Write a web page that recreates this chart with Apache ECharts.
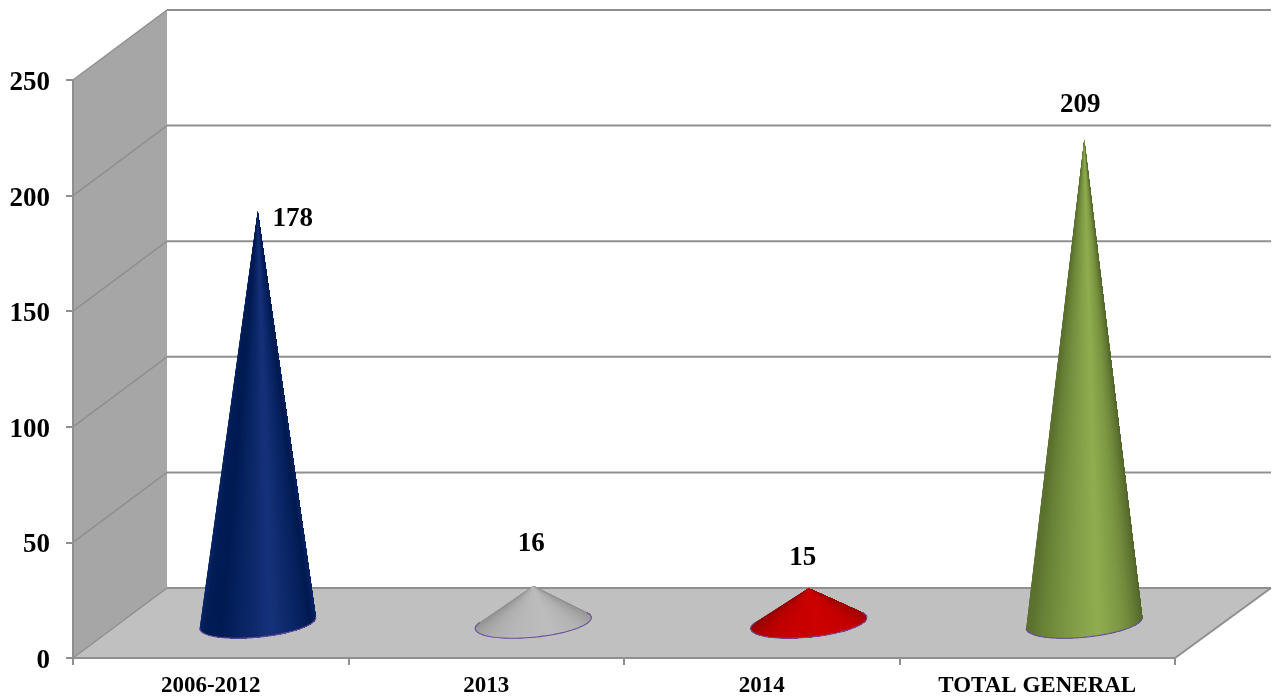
<!DOCTYPE html>
<html><head><meta charset="utf-8">
<script src="https://cdn.jsdelivr.net/npm/echarts@6/dist/echarts.min.js"></script>
<style>html,body{margin:0;padding:0;background:#fff}#c{width:1279px;height:698px}</style>
</head><body><div id="c"></div>
<script>
const categories = ['2006-2012', '2013', '2014', 'TOTAL GENERAL'];
const values = [178, 16, 15, 209];
const yTicks = [0, 50, 100, 150, 200, 250];
const ramps = [
  ['#0c2a6c', '#021d56', '#001b52', '#0a2564', '#16327a', '#0a2564', '#001a50', '#0c2a6c'],
  ['#8a8a8a', '#9c9c9c', '#aeaeae', '#b8b8b8', '#bdbdbd', '#b4b4b4', '#a0a0a0', '#8c8c8c'],
  ['#850000', '#a00000', '#bb0000', '#c80000', '#cc0000', '#c40000', '#aa0000', '#8e0000'],
  ['#5a7030', '#5c722f', '#6d873a', '#7f9b45', '#90ae50', '#7c9642', '#5f7632', '#4e6028']
];
const labelOffsets = [[35, 8], [-2, -42], [-6, -30], [-4, -35]];

const DEPTH_X = 94, DEPTH_Y = -70, BACK_EXTRA = 2;
const FONT = '"Liberation Serif","Times New Roman",serif';
const GRID = '#8f8f8f';

function hex(c){return [1,3,5].map(i=>parseInt(c.substr(i,2),16));}
function rampColor(r,t){
  const p=t*(r.length-1), i=Math.min(Math.floor(p),r.length-2), f=p-i;
  const a=hex(r[i]), b=hex(r[i+1]);
  return 'rgb('+a.map((v,k)=>Math.round(v+(b[k]-v)*f)).join(',')+')';
}

function renderWalls(params, api){
  const cs = params.coordSys;
  const v = api.value(0);
  const y = api.coord([0, v])[1];
  const x0 = cs.x, xr = cs.x + cs.width;
  const bx = x0 + DEPTH_X, br = xr + DEPTH_X + BACK_EXTRA, by = y + DEPTH_Y;
  const children = [];
  const lineStyle = {stroke: GRID, lineWidth: 2, fill: null};
  const sub = {stroke: GRID, lineWidth: 1.5, fill: null};
  if (params.dataIndex === 0) {
    const top = cs.y;
    children.push({type:'polygon', shape:{points:[[x0,y],[bx,by],[bx,top+DEPTH_Y],[x0,top]]}, style:{fill:'#a6a6a6'}});
    children.push({type:'polygon', shape:{points:[[x0,y],[xr,y],[br,by],[bx,by]]}, style:{fill:'#c0c0c0'}});
    children.push({type:'line', shape:{x1:xr,y1:y,x2:br,y2:by}, style:lineStyle});
  }
  children.push({type:'line', shape:{x1:x0,y1:y,x2:bx,y2:by}, style:sub});
  children.push({type:'line', shape:{x1:bx,y1:by,x2:br,y2:by}, style:lineStyle});
  return {type:'group', children};
}

function renderCone(params, api){
  const i = params.dataIndex;
  const base = api.coord([i, 0]);
  const tip = api.coord([i, api.value(1)]);
  const cx = base[0] + DEPTH_X/2, cy = base[1] + DEPTH_Y/2;
  const tx = cx, ty = tip[1] + DEPTH_Y/2;
  const ax = 58, ay = -4.8, bx = -2.5, by = 14.5;
  // tangent points of the tip on the tilted base ellipse
  const px = tx - cx, py = ty - cy, det = ax*by - ay*bx;
  const u = (px*by - py*bx)/det, v = (ax*py - ay*px)/det;
  const r = Math.hypot(u, v), phi = Math.atan2(v, u), alpha = Math.acos(1/Math.max(r, 1.01));
  const tStart = phi - alpha, tEnd = phi + alpha - 2*Math.PI;
  const N = 70, ramp = ramps[i];
  const arc = [];
  for (let k=0;k<=N;k++){
    const th = tStart + (tEnd - tStart)*k/N;
    arc.push([cx + ax*Math.cos(th) + bx*Math.sin(th), cy + ay*Math.cos(th) + by*Math.sin(th)]);
  }
  const apex = [tx, ty];
  const children = [];
  // painter's order: each slice covers everything to its right, so no seams appear
  for (let k=0;k<N;k++){
    const col = rampColor(ramp, (k+0.5)/N);
    children.push({type:'polygon', shape:{points:[apex, ...arc.slice(k)]}, style:{fill:col}});
  }
  children.push({type:'polyline', shape:{points:arc}, style:{stroke:'#6b4f9e', lineWidth:1.1, fill:null}});
  const off = labelOffsets[i];
  children.push({type:'text', style:{text:String(api.value(1)), x:tx+off[0], y:ty+off[1], align:'center', verticalAlign:'middle', font:'bold 27px '+FONT, fill:'#000'}});
  return {type:'group', children};
}

const chart = echarts.init(document.getElementById('c'), null, {renderer:'canvas'});
chart.setOption({
  animation:false,
  backgroundColor:'#fff',
  grid:{left:73, right:104, top:80, bottom:40},
  xAxis:{type:'category', data:categories, boundaryGap:true,
    axisLine:{lineStyle:{color:GRID,width:2}},
    axisTick:{show:true,length:7,alignWithLabel:false,lineStyle:{color:GRID,width:2}},
    axisLabel:{color:'#000',fontFamily:FONT,fontWeight:'bold',fontSize:23,margin:17,interval:0},
    splitLine:{show:false}, z:5},
  yAxis:{type:'value', min:0, max:250, interval:50,
    axisLine:{show:true,lineStyle:{color:GRID,width:2}},
    axisTick:{show:true,length:7,lineStyle:{color:GRID,width:2}},
    axisLabel:{margin:23,formatter:'{a|{value}}',
      rich:{a:{color:'#000',fontFamily:FONT,fontWeight:'bold',fontSize:27,lineHeight:32,padding:[6,0,0,0]}}},
    splitLine:{show:false}, z:5},
  series:[
    {type:'custom', name:'walls', coordinateSystem:'cartesian2d', clip:false, z:1,
      renderItem:renderWalls, encode:{x:-1,y:0}, data:yTicks.map(v=>[v]), silent:true},
    {type:'custom', name:'cones', coordinateSystem:'cartesian2d', clip:false, z:3,
      renderItem:renderCone, encode:{x:0,y:1}, data:values.map((v,i)=>[i,v])}
  ]
});
</script></body></html>
